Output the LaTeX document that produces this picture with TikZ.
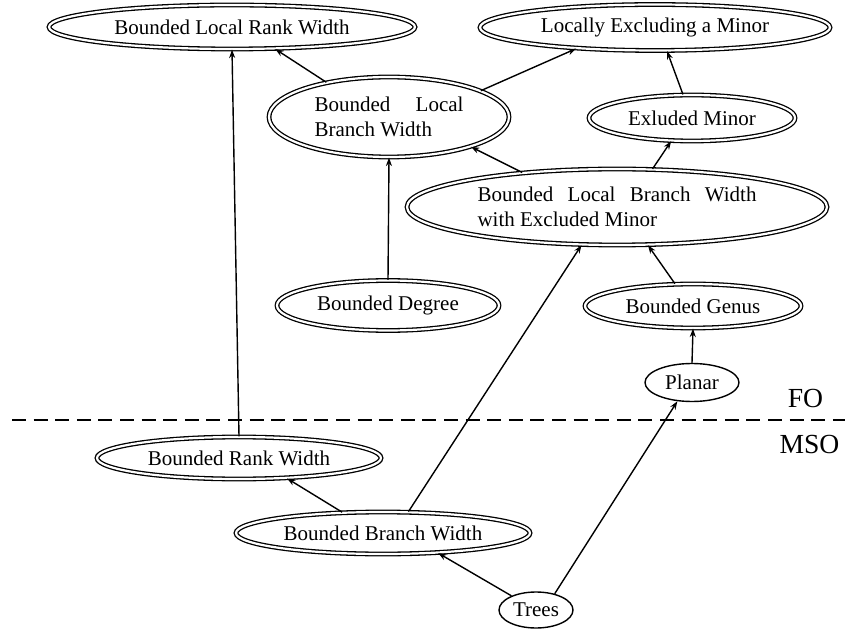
\documentclass[tikz,border=0pt]{standalone}
\usepackage{fontspec}
\setmainfont{Liberation Serif}
\usetikzlibrary{shapes.geometric,arrows.meta}
\begin{document}
\begin{tikzpicture}[x=0.5pt,y=-0.5pt,
  every node/.style={font=\fontsize{10.5}{12.5}\selectfont},
  dbl/.style={ellipse,draw,double,double distance=1.1pt,line width=0.65pt,inner sep=0pt},
  sgl/.style={ellipse,draw,line width=0.7pt,inner sep=0pt},
  arr/.style={-{Stealth[length=4.2pt,width=3pt]},line width=0.7pt},
  lbl/.style={font=\fontsize{13.8}{16}\selectfont,anchor=base,inner sep=0pt},
  sep/.style={dash pattern=on 7pt off 3.8pt,line width=0.75pt}]
\useasboundingbox (0,0) rectangle (845,630);
% nodes
\node[dbl,minimum width=183pt,minimum height=22pt] (blrw) at (232,27) {Bounded Local Rank Width};
\node[dbl,minimum width=175pt,minimum height=23pt] (lem) at (655,27.5) {Locally Excluding a Minor};
\node[dbl,minimum width=120pt,minimum height=40pt,align=left] (blbw) at (389,117)
  {\hbox to 74.5pt{Bounded\hfill Local}\\Branch Width};
\node[dbl,minimum width=103pt,minimum height=23pt] (em) at (692,118) {Exluded Minor};
\node[dbl,minimum width=210pt,minimum height=38pt,align=left] (blbwem) at (617,207)
  {\hbox to 139.5pt{Bounded\hfill Local\hfill Branch\hfill Width}\\with Excluded Minor};
\node[dbl,minimum width=111pt,minimum height=25pt] (bdeg) at (388,305.5) {Bounded Degree};
\node[dbl,minimum width=108pt,minimum height=22pt] (bgen) at (693,306) {Bounded Genus};
\node[sgl,minimum width=47pt,minimum height=19pt] (planar) at (692,382.5) {Planar};
\node[dbl,minimum width=142pt,minimum height=21pt] (brw) at (239,458) {Bounded Rank Width};
\node[dbl,minimum width=147pt,minimum height=21pt] (bbw) at (383,533) {Bounded Branch Width};
\node[sgl,minimum width=37pt,minimum height=18pt] (trees) at (536,610) {Trees};
% separator
\coordinate (dl) at (12,420);
\coordinate (dr) at (845,420);
\draw[sep] (dl) -- (dr);
\node[lbl] (fo) at (805.5,407) {FO};
\node[lbl] (mso) at (809.5,453) {MSO};
% edges
\draw[arr] (brw.north) -- (blrw.south);
\draw[arr] (blbw.151.1) -- (blrw.333.5);
\draw[arr] (blbw.16.8) -- (lem.195.5);
\draw[arr] (em.111.5) -- (lem.297.6);
\draw[arr] (blbwem.160.1) -- (blbw.340.8);
\draw[arr] (blbwem.47) -- (em.228.5);
\draw[arr] (bdeg.north) -- (blbw.south);
\draw[arr] (bgen.129.7) -- (blbwem.309.5);
\draw[arr] (planar.north) -- (bgen.south);
\draw[arr] (trees.41.1) -- (planar.232.3);
\draw[arr] (trees.150.3) -- (bbw.340.5);
\draw[arr] (bbw.153.2) -- (brw.337.6);
\draw[arr] (bbw.40.8) -- (blbwem.227.8);
\end{tikzpicture}
\end{document}
